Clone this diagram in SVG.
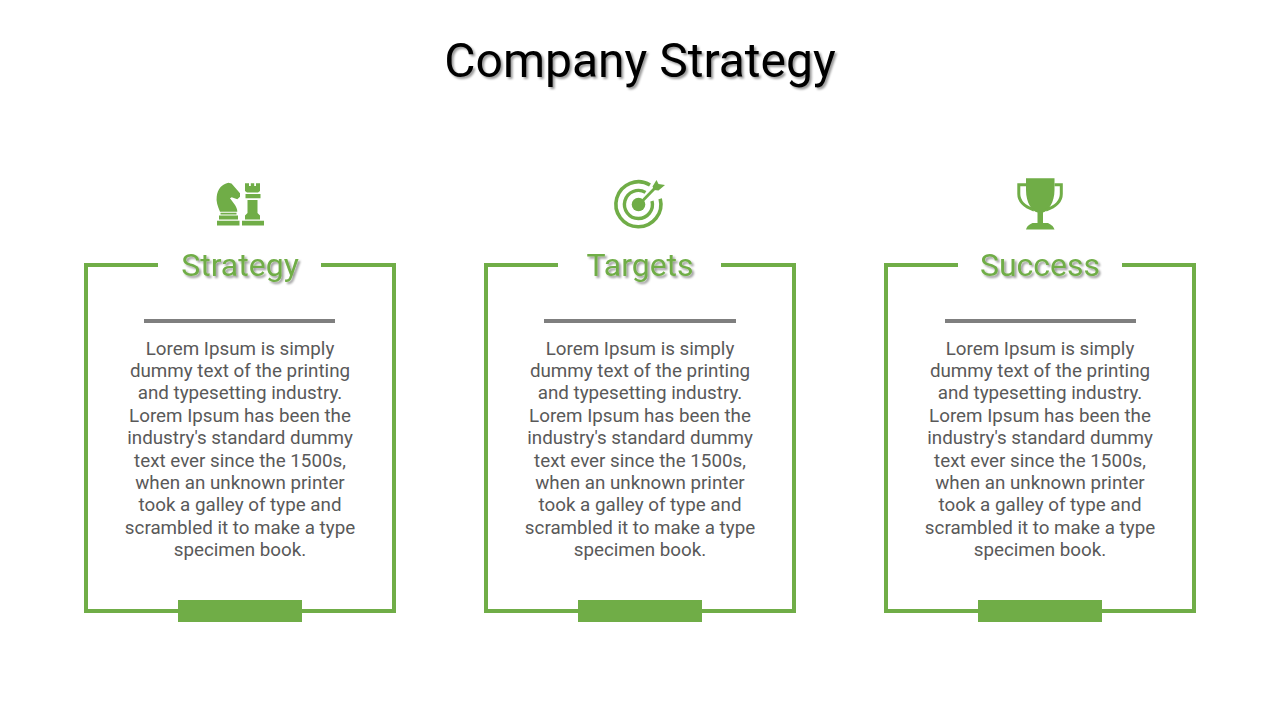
<svg xmlns="http://www.w3.org/2000/svg" width="1280" height="720" viewBox="0 0 1280 720">
<style>
text{font-family:Roboto,"Liberation Sans",sans-serif;text-anchor:middle}
.title{font-size:48px;fill:#000;filter:url(#s)}
.head{font-size:32px;fill:#70ad47;filter:url(#s)}
.body{font-size:18.8px;fill:#595959}
.frame{fill:none;stroke:#70ad47;stroke-width:4}
.bar{fill:#70ad47}
.rule{fill:#7f7f7f}
.ic{fill:#70ad47}
.icl{fill:none;stroke:#70ad47}
</style>
<defs>
<filter id="s" x="-10%" y="-20%" width="125%" height="150%"><feDropShadow dx="2" dy="2" stdDeviation="1.2" flood-color="#000" flood-opacity="0.4"/></filter>
</defs>
<rect width="1280" height="720" fill="#fff"/>
<text class="title" x="640" y="76.500">Company Strategy</text>
<g id="connectors"></g>
<g id="node-strategy">
<path class="ic" d="M217 220.700H239.500V225.500H217ZM219 215.500H238V219.500H219ZM220.500 212.800H236.500V214.500H220.500ZM220 211.700C217.500 206 216 201 216.700 196.700C217.500 189 222 184 228.300 182.700L231.500 183.500L240 193.300V196.700L237.300 199.300L231.700 197.300L230 198.300L235 205C236.500 207.500 237.300 209.500 237.300 211.700Z"/>
<path class="ic" d="M245 183.300H249V186H250.800V183.300H254.200V186H256V183.300H260V191L258 192.500H247L245 191ZM245.500 194H260.500V198.300H245.500ZM247.500 200H257.500V213L260 215.500V219.500H245V215.500L247.500 213ZM242 220.700H264V225.500H242Z"/>
<path class="frame" d="M158 265H86V611H394V265H321"/>
<rect class="bar" x="178" y="600" width="124" height="22"/>
<rect class="rule" x="144" y="319" width="191" height="4"/>
<text class="head" x="240" y="275.500">Strategy</text>
<text class="body" x="240"><tspan x="240" y="354.500">Lorem Ipsum is simply</tspan><tspan x="240" y="376.900">dummy text of the printing</tspan><tspan x="240" y="399.300">and typesetting industry.</tspan><tspan x="240" y="421.700">Lorem Ipsum has been the</tspan><tspan x="240" y="444.100">industry's standard dummy</tspan><tspan x="240" y="466.500">text ever since the 1500s,</tspan><tspan x="240" y="488.900">when an unknown printer</tspan><tspan x="240" y="511.300">took a galley of type and</tspan><tspan x="240" y="533.700">scrambled it to make a type</tspan><tspan x="240" y="556.100">specimen book.</tspan></text>
</g>
<g id="node-targets">
<path class="icl" stroke-width="3.600" d="M650 185A22.500 22.500 0 1 0 660.200 198.700"/>
<path class="icl" stroke-width="3.400" d="M645.500 192.400A14 14 0 1 0 652 201"/>
<circle class="ic" cx="638.500" cy="204.500" r="6.800"/>
<path class="icl" stroke-width="2.800" d="M639 204.500L655 188"/>
<path class="ic" d="M652.500 186.500L656.500 180L658.500 184L665 185L658.500 190.500L654 190Z"/>
<path class="frame" d="M558 265H486V611H794V265H721"/>
<rect class="bar" x="578" y="600" width="124" height="22"/>
<rect class="rule" x="544" y="319" width="192" height="4"/>
<text class="head" x="640" y="275.500">Targets</text>
<text class="body" x="640"><tspan x="640" y="354.500">Lorem Ipsum is simply</tspan><tspan x="640" y="376.900">dummy text of the printing</tspan><tspan x="640" y="399.300">and typesetting industry.</tspan><tspan x="640" y="421.700">Lorem Ipsum has been the</tspan><tspan x="640" y="444.100">industry's standard dummy</tspan><tspan x="640" y="466.500">text ever since the 1500s,</tspan><tspan x="640" y="488.900">when an unknown printer</tspan><tspan x="640" y="511.300">took a galley of type and</tspan><tspan x="640" y="533.700">scrambled it to make a type</tspan><tspan x="640" y="556.100">specimen book.</tspan></text>
</g>
<g id="node-success">
<path class="ic" d="M1026 178.300H1054.500V190C1054.500 203 1048 211 1043 212.500V223H1048C1050 224.500 1053 225 1054.500 229.500H1026C1027.500 225 1030 224.500 1032.500 223H1037.500V212.500C1032 211 1026 203 1026 190Z"/>
<path class="icl" stroke-width="3" d="M1026 184.700H1018.800V194C1018.800 203 1027 207.500 1034 210M1054.500 184.700H1061.300V194C1061.300 203 1053 207.500 1046 210"/>
<path class="frame" d="M958 265H886V611H1194V265H1122"/>
<rect class="bar" x="978" y="600" width="124" height="22"/>
<rect class="rule" x="945" y="319" width="191" height="4"/>
<text class="head" x="1040" y="275.500">Success</text>
<text class="body" x="1040"><tspan x="1040" y="354.500">Lorem Ipsum is simply</tspan><tspan x="1040" y="376.900">dummy text of the printing</tspan><tspan x="1040" y="399.300">and typesetting industry.</tspan><tspan x="1040" y="421.700">Lorem Ipsum has been the</tspan><tspan x="1040" y="444.100">industry's standard dummy</tspan><tspan x="1040" y="466.500">text ever since the 1500s,</tspan><tspan x="1040" y="488.900">when an unknown printer</tspan><tspan x="1040" y="511.300">took a galley of type and</tspan><tspan x="1040" y="533.700">scrambled it to make a type</tspan><tspan x="1040" y="556.100">specimen book.</tspan></text>
</g>
</svg>
